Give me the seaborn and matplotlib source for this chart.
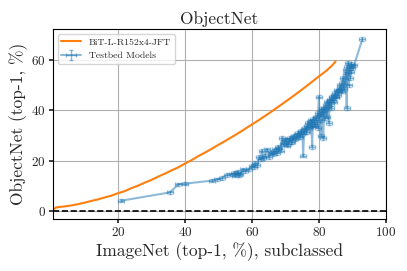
import numpy as np
import pandas as pd
import seaborn as sns
import matplotlib
matplotlib.use("Agg")
import matplotlib.pyplot as plt

# BiT-L-R152x4-JFT curve
bit_x = [0.5, 1.5, 2.5, 4, 6, 8, 10, 12, 14, 16, 18, 20, 22, 24, 26, 28, 30,
         32, 34, 36, 38, 40, 42, 44, 46, 48, 50, 52, 54, 56, 58, 60, 62, 64,
         66, 68, 70, 72, 74, 76, 78, 80, 82, 84, 85]
bit_y = [0.4, 1.3, 1.5, 1.7, 2.1, 2.6, 3.2, 3.9, 4.5, 5.3, 6.0, 7.0, 7.8,
         9.0, 10.0, 11.2, 12.3, 13.6, 14.8, 16.1, 17.3, 18.8, 20.2, 21.8,
         23.2, 24.7, 26.3, 27.8, 29.4, 31.0, 32.7, 34.4, 36.1, 37.9, 39.7,
         41.6, 43.5, 45.4, 47.4, 49.4, 51.5, 53.6, 55.6, 58.0, 59.6]

# Testbed models (sorted by ImageNet accuracy)
tb_x = [21.0, 35.5, 38.0, 40.0, 48.0, 49.5, 51.0, 52.5, 54.0, 54.6, 55.0,
        55.5, 55.8, 56.2, 56.5, 57.2, 58.0, 59.0, 60.0, 60.5, 60.8, 61.5,
        62.2, 62.6, 63.0, 63.4, 63.8, 64.5, 65.2, 65.6, 66.0, 66.4, 66.8,
        67.2, 67.5, 67.9, 68.2, 68.6, 69.0, 69.3, 69.6, 69.9, 70.2, 70.5,
        70.8, 71.1, 71.4, 71.7, 72.0, 72.3, 72.6, 72.9, 73.2, 73.5, 73.8,
        74.1, 74.3, 74.6, 74.8, 75.1, 75.3, 75.6, 75.8, 76.1, 76.3, 76.6,
        76.8, 77.0, 77.2, 77.4, 77.6, 77.8, 78.0, 78.2, 78.4, 78.6, 78.8,
        79.0, 79.2, 79.4, 79.6, 79.8, 80.0, 80.2, 80.3, 80.5, 80.6, 80.8,
        81.0, 81.2, 81.3, 81.5, 81.6, 81.8, 82.0, 82.2, 82.3, 82.5, 82.6,
        82.8, 83.0, 83.2, 83.3, 83.5, 83.6, 83.8, 84.0, 84.2, 84.4, 84.6,
        84.8, 85.0, 85.2, 85.4, 85.6, 85.8, 86.0, 86.2, 86.4, 86.6, 86.8,
        87.0, 87.2, 87.4, 87.6, 87.8, 88.0, 88.2, 88.3, 88.5, 88.6, 88.8,
        89.0, 89.2, 89.3, 89.5, 89.6, 89.8, 90.0, 90.5, 93.0]
tb_y = [4.0, 7.3, 10.5, 10.8, 12.0, 12.5, 13.0, 14.3, 14.5, 15.0, 14.0,
        15.2, 15.5, 14.2, 14.5, 16.5, 15.8, 16.5, 18.0, 17.5, 19.0, 18.2,
        21.5, 20.5, 24.0, 21.0, 22.0, 24.5, 21.5, 23.5, 23.0, 22.5, 24.5,
        24.0, 23.0, 25.5, 25.0, 24.0, 29.0, 26.5, 27.0, 28.0, 28.5, 26.0,
        26.5, 28.5, 29.0, 27.5, 27.5, 29.5, 30.0, 28.5, 29.0, 30.5, 31.0,
        30.0, 29.5, 31.5, 32.0, 30.5, 22.0, 32.5, 33.0, 31.5, 31.5, 34.0,
        35.0, 33.0, 33.5, 35.5, 36.0, 34.5, 25.5, 36.5, 35.5, 34.0, 34.0,
        37.5, 37.0, 35.5, 33.0, 39.0, 45.5, 38.5, 38.0, 36.0, 30.0, 40.5,
        40.0, 38.5, 29.0, 41.0, 39.5, 37.0, 42.0, 40.5, 37.5, 43.5, 43.0,
        41.5, 35.0, 44.0, 44.0, 42.5, 41.0, 45.5, 45.0, 44.0, 43.5, 46.0,
        47.0, 45.5, 45.5, 48.0, 46.0, 47.5, 48.0, 49.0, 50.0, 48.5, 47.5,
        51.0, 53.0, 50.5, 48.5, 52.5, 56.0, 54.5, 41.0, 57.5, 59.0, 55.0,
        50.0, 57.0, 53.0, 58.5, 55.5, 57.0, 58.0, 58.0, 68.5]

sns.set_theme(style="whitegrid", rc={
    "axes.edgecolor": "black", "grid.color": "#b0b0b0",
    "axes.linewidth": 0.8, "grid.linewidth": 0.8,
    "xtick.bottom": True, "ytick.left": True,
    "xtick.major.size": 3, "ytick.major.size": 3,
})
plt.rcParams["font.family"] = ["cmr10", "DejaVu Serif"]
plt.rcParams["mathtext.fontset"] = "cm"
plt.rcParams["axes.formatter.use_mathtext"] = True

fig = plt.figure(figsize=(4.07, 2.71), dpi=100)
ax = fig.add_axes([0.1295, 0.191, 0.8185, 0.701])

bit = pd.DataFrame({"x": bit_x, "y": bit_y})
sns.lineplot(data=bit, x="x", y="y", color="tab:orange", lw=1.5, sort=False,
             ax=ax, label="BiT-L-R152x4-JFT")
ax.errorbar(tb_x, tb_y, xerr=0.9, yerr=0.7, fmt="-", color="tab:blue",
            alpha=0.5, lw=1.5, elinewidth=1.0, capsize=1.5,
            label="Testbed Models")
ax.axhline(0, color="black", ls="--", lw=1.2)

ax.set_xlim(0.5, 100)
ax.set_ylim(-3.4, 72.4)
ax.set_xticks([20, 40, 60, 80, 100])
ax.set_yticks([0, 20, 40, 60])
ax.tick_params(labelsize=9.5, pad=2)
ax.set_title("ObjectNet", fontsize=12.5, pad=4)
ax.set_xlabel("ImageNet (top-1, %), subclassed", fontsize=12.5, labelpad=2)
ax.set_ylabel("ObjectNet (top-1, %)", fontsize=12.5, labelpad=2)
ax.legend(loc="upper left", fontsize=7, frameon=True, framealpha=0.8,
          edgecolor="#cccccc", fancybox=True, borderpad=0.4,
          handlelength=2.0, labelspacing=0.5)

fig.savefig("out.png", dpi=100)
